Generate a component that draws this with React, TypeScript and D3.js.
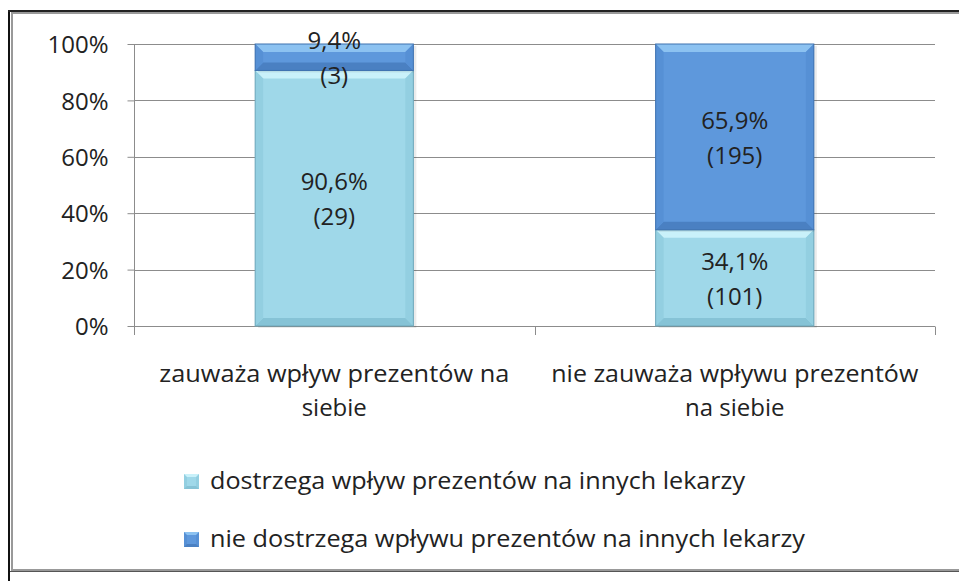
import React, { useRef, useEffect } from "react";
import * as d3 from "d3";

// categories (x axis), each label split into two lines
const categories = ["zauwaza", "nie zauwaza"];
const categoryLines = [
	["zauważa wpływ prezentów na", "siebie"],
	["nie zauważa wpływu prezentów", "na siebie"],
];

// series: respondent counts per category
const seriesKeys = ["dostrzega", "nie dostrzega"];
const seriesNames = [
	"dostrzega wpływ prezentów na innych lekarzy",
	"nie dostrzega wpływu prezentów na innych lekarzy",
];
const dostrzega = [29, 101];
const nieDostrzega = [3, 195];

const yTicks = [0, 0.2, 0.4, 0.6, 0.8, 1];

const palette = {
	dostrzega: { base: "#9fd8e9", top: "#c9f1fa", bottom: "#86c3d6", side: "#93cfe1", edge: "#6ea7ba" },
	"nie dostrzega": { base: "#5e98dc", top: "#8cc2f1", bottom: "#4a80c2", side: "#5690d5", edge: "#3f72b0" },
};

const FONT = "'Open Sans', sans-serif";

const App = () => {
	const svgRef = useRef();

	useEffect(() => {
		const width = 959;
		const height = 581;
		const margin = { left: 134, right: 24, top: 44, bottom: 255 };

		const svg = d3.select(svgRef.current);
		svg.selectAll("*").remove();

		// frame
		svg.append("line")
			.attr("x1", 9).attr("x2", 9).attr("y1", 10).attr("y2", height)
			.attr("stroke", "#111").attr("stroke-width", 2);
		svg.append("line")
			.attr("x1", 8).attr("x2", width + 5).attr("y1", 11).attr("y2", 11)
			.attr("stroke", "#222").attr("stroke-width", 2);
		svg.append("rect")
			.attr("x", 12).attr("y", 13).attr("width", width).attr("height", 557)
			.attr("fill", "white").attr("stroke", "#999").attr("stroke-width", 2);
		svg.append("line")
			.attr("x1", 10).attr("x2", width + 5).attr("y1", 571.5).attr("y2", 571.5)
			.attr("stroke", "#555").attr("stroke-width", 1);

		const x = d3
			.scaleBand()
			.domain(categories)
			.range([margin.left, width - margin.right])
			.paddingInner(0.605)
			.paddingOuter(0.3025);

		const y = d3.scaleLinear().domain([0, 1]).range([326, margin.top]);

		const table = categories.map((c, i) => ({
			cat: c,
			dostrzega: dostrzega[i],
			"nie dostrzega": nieDostrzega[i],
		}));

		const stack = d3.stack().keys(seriesKeys).offset(d3.stackOffsetExpand);
		const series = stack(table);

		// gridlines
		svg.append("g")
			.selectAll("line")
			.data(yTicks.slice(1))
			.join("line")
			.attr("x1", margin.left)
			.attr("x2", width - margin.right)
			.attr("y1", (d) => Math.round(y(d)) + 0.5)
			.attr("y2", (d) => Math.round(y(d)) + 0.5)
			.attr("stroke", "#8c8c8c");

		// y axis
		const yAxis = svg
			.append("g")
			.attr("transform", `translate(${margin.left + 0.5},0)`)
			.call(
				d3.axisLeft(y)
					.tickValues(yTicks)
					.tickFormat((d) => `${Math.round(d * 100)}%`)
					.tickSize(7)
					.tickPadding(19)
					.tickSizeOuter(0)
			);
		yAxis.select(".domain").remove();
		yAxis.selectAll("line").attr("stroke", "#8c8c8c");
		yAxis.append("line")
			.attr("x1", 0).attr("x2", 0)
			.attr("y1", y(1)).attr("y2", 335)
			.attr("stroke", "#8c8c8c");
		yAxis.selectAll("text")
			.attr("font-family", FONT)
			.attr("font-size", 24)
			.attr("fill", "#222")
			.attr("dy", "0.36em");

		// x axis line + ticks at band boundaries
		const y0 = Math.round(y(0)) + 0.5;
		svg.append("line")
			.attr("x1", margin.left).attr("x2", width - margin.right)
			.attr("y1", y0).attr("y2", y0)
			.attr("stroke", "#8c8c8c");
		const bounds = [margin.left, margin.left + x.step(), width - margin.right];
		svg.append("g")
			.selectAll("line")
			.data(bounds)
			.join("line")
			.attr("x1", (d) => Math.round(d) + 0.5)
			.attr("x2", (d) => Math.round(d) + 0.5)
			.attr("y1", y0)
			.attr("y2", 335)
			.attr("stroke", "#8c8c8c");

		// bars with bevel
		const gBars = svg.append("g");
		series.forEach((s, si) => {
			const col = palette[s.key];
			s.forEach((d) => {
				const bx = x(d.data.cat);
				const bw = x.bandwidth();
				const by = y(d[1]);
				const bh = y(d[0]) - y(d[1]);
				const b = Math.min(8, bh / 2);
				const g = gBars.append("g");
				g.append("rect")
					.attr("x", bx + 3).attr("y", by + 2)
					.attr("width", bw).attr("height", bh)
					.attr("fill", "#000").attr("opacity", 0.08);
				g.append("rect")
					.attr("x", bx).attr("y", by)
					.attr("width", bw).attr("height", bh)
					.attr("fill", col.base);
				const poly = (pts, fill) =>
					g.append("polygon")
						.attr("points", pts.map((p) => p.join(",")).join(" "))
						.attr("fill", fill);
				poly([[bx, by], [bx + bw, by], [bx + bw - b, by + b], [bx + b, by + b]], col.top);
				poly([[bx, by + bh], [bx + bw, by + bh], [bx + bw - b, by + bh - b], [bx + b, by + bh - b]], col.bottom);
				poly([[bx, by], [bx + b, by + b], [bx + b, by + bh - b], [bx, by + bh]], col.side);
				poly([[bx + bw, by], [bx + bw - b, by + b], [bx + bw - b, by + bh - b], [bx + bw, by + bh]], col.side);
				g.append("rect")
					.attr("x", bx).attr("y", by)
					.attr("width", bw).attr("height", bh)
					.attr("fill", "none").attr("stroke", col.edge).attr("stroke-width", 1);
			});
		});

		// data labels
		const fmt = (v) => `${(v * 100).toFixed(1).replace(".", ",")}%`;
		series.forEach((s) => {
			s.forEach((d) => {
				const cx = x(d.data.cat) + x.bandwidth() / 2;
				const cy = y((d[0] + d[1]) / 2);
				const t = svg.append("text")
					.attr("font-family", FONT)
					.attr("font-size", 24)
					.attr("fill", "#222")
					.attr("text-anchor", "middle");
				t.append("tspan").attr("x", cx).attr("y", cy - 17).attr("dy", "0.36em").text(fmt(d[1] - d[0]));
				t.append("tspan").attr("x", cx).attr("y", cy + 18).attr("dy", "0.36em").text(`(${d.data[s.key]})`);
			});
		});

		// category labels
		categories.forEach((c, i) => {
			const cx = x(c) + x.bandwidth() / 2;
			categoryLines[i].forEach((line, li) => {
				const t = svg.append("text")
					.attr("x", cx)
					.attr("y", 382 + li * 34)
					.attr("font-family", FONT)
					.attr("font-size", 24)
					.attr("fill", "#222")
					.attr("text-anchor", "middle")
					.text(line);
				if (li === 0) {
					t.attr("textLength", i === 0 ? 350 : 367).attr("lengthAdjust", "spacingAndGlyphs");
				}
			});
		});

		// legend
		const legendLens = [535, 595];
		seriesKeys.forEach((k, i) => {
			const ly = 481 + i * 58;
			const col = palette[k];
			const m = svg.append("g").attr("transform", `translate(184,${ly - 7})`);
			m.append("rect").attr("width", 15).attr("height", 15).attr("fill", col.side);
			m.append("polygon").attr("points", "0,0 15,0 12,3 3,3").attr("fill", col.top);
			m.append("polygon").attr("points", "0,15 15,15 12,12 3,12").attr("fill", col.bottom);
			m.append("rect").attr("x", 3).attr("y", 3).attr("width", 9).attr("height", 9).attr("fill", col.base);
			svg.append("text")
				.attr("x", 210)
				.attr("y", ly)
				.attr("dy", "0.36em")
				.attr("font-family", FONT)
				.attr("font-size", 23)
				.attr("fill", "#222")
				.attr("textLength", legendLens[i])
				.attr("lengthAdjust", "spacingAndGlyphs")
				.text(seriesNames[i]);
		});
	}, []);

	return (
		<svg
			ref={svgRef}
			width={959}
			height={581}
			style={{ position: "absolute", left: 0, top: 0, background: "white", display: "block" }}
		/>
	);
};

export default App;
